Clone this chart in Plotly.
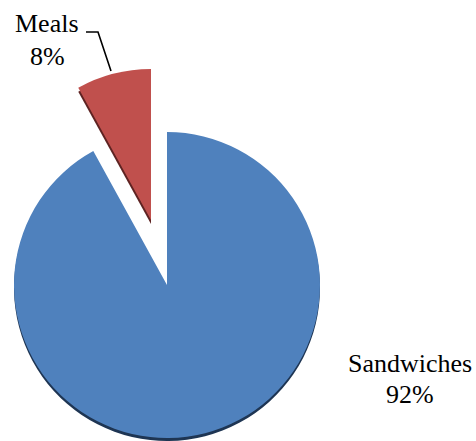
import plotly.graph_objects as go

# ---- data ----
labels = ["Sandwiches", "Meals"]
values = [92, 8]

# ---- styling ----
W, H = 476, 441
BLUE = "#4F81BD"
RED = "#C0504D"
BLUE_SH = "#1E3553"
RED_SH = "#5E2322"
CLEAR = "rgba(0,0,0,0)"
FONT = "Liberation Serif"


def dom(cx, cy, r):
    """domain for a pie centred at pixel (cx, cy) with radius r"""
    return dict(x=[(cx - r) / W, (cx + r) / W],
                y=[1 - (cy + r) / H, 1 - (cy - r) / H])


def pie(colors, d):
    return go.Pie(labels=labels, values=values, sort=False,
                  direction="clockwise", rotation=0,
                  marker=dict(colors=colors, line=dict(width=0)),
                  textinfo="none", hoverinfo="skip", domain=d,
                  showlegend=False)


fig = go.Figure()
# shadows
fig.add_trace(pie([BLUE_SH, CLEAR], dom(167, 288, 153)))
fig.add_trace(pie([CLEAR, RED_SH], dom(151, 224, 151)))
# main slices (Meals exploded)
fig.add_trace(pie([BLUE, CLEAR], dom(167, 285, 153)))
fig.add_trace(pie([CLEAR, RED], dom(151, 220, 151)))

total = sum(values)
pct = [f"{round(v / total * 100)}%" for v in values]

ann = []
def txt(s, px, py):
    ann.append(dict(text=s, x=px / W, y=1 - py / H, xref="paper", yref="paper",
                    xanchor="center", yanchor="middle", showarrow=False,
                    font=dict(family=FONT, size=26, color="black")))

txt(labels[1], 47, 24)
txt(pct[1], 47, 56)
txt(labels[0], 410, 363)
txt(pct[0], 410, 394)

def P(px, py):
    return f"{px / W},{1 - py / H}"

fig.update_layout(
    width=W, height=H, margin=dict(l=0, r=0, t=0, b=0),
    paper_bgcolor="white", plot_bgcolor="white",
    annotations=ann,
    shapes=[dict(type="path", xref="paper", yref="paper",
                 path=f"M {P(86, 32)} L {P(98, 32)} L {P(111, 71)}",
                 line=dict(color="black", width=1.6))],
)

fig.write_html("out.html")
